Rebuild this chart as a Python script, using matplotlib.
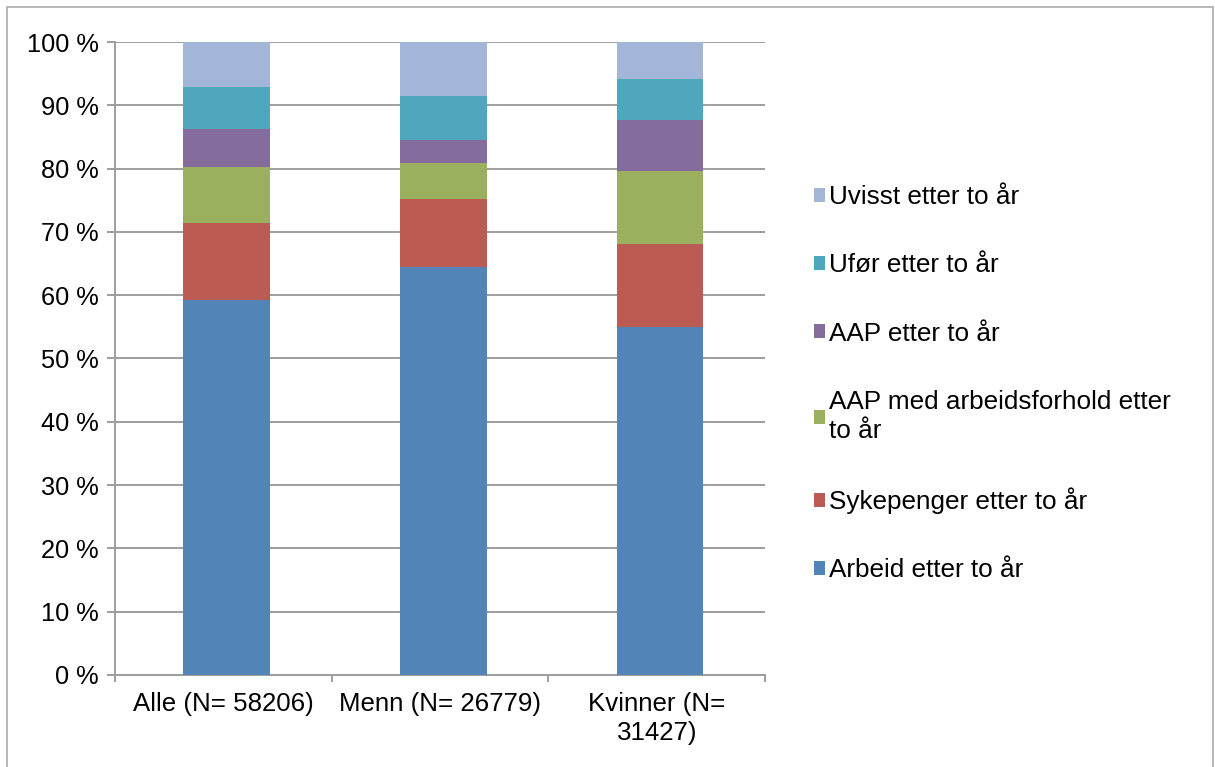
import numpy as np
import matplotlib
matplotlib.use("Agg")
from matplotlib import pyplot as plt
from matplotlib.patches import Rectangle

plt.rcParams['font.family'] = ['Liberation Sans', 'DejaVu Sans']

# Data (percent)
groups = ['Alle (N= 58206)', 'Menn (N= 26779)', 'Kvinner (N=\n31427)']
arbeid = [59.2, 64.4, 54.9]
sykepenger = [12.2, 10.8, 13.2]
aap_arbeid = [8.8, 5.7, 11.5]
aap = [6.1, 3.7, 8.1]
ufor = [6.6, 6.8, 6.5]
uvisst = [7.1, 8.6, 5.8]

series = [
    ('Arbeid etter to år', arbeid, '#5384B7'),
    ('Sykepenger etter to år', sykepenger, '#BC5B53'),
    ('AAP med arbeidsforhold etter\nto år', aap_arbeid, '#9BB05E'),
    ('AAP etter to år', aap, '#846C9D'),
    ('Ufør etter to år', ufor, '#4FA7BE'),
    ('Uvisst etter to år', uvisst, '#A3B6D8'),
]

fig = plt.figure(figsize=(12.15, 7.67), dpi=100)
ax = fig.add_axes([0.0947, 0.12, 0.535, 0.8252])

x = np.arange(len(groups))
bottom = np.zeros(len(groups))
handles = []
for name, vals, col in series:
    b = ax.bar(x + 0.015, vals, 0.4, bottom=bottom, color=col, label=name, zorder=3)
    bottom += np.array(vals)
    handles.append(b)

ax.set_xlim(-0.5, 2.5)
ax.set_ylim(0, 100)
ax.set_yticks(np.arange(0, 101, 10))
ax.set_yticklabels(['%d %%' % v for v in range(0, 101, 10)], fontsize=18.3)
ax.yaxis.grid(True, color='#9E9E9E', linewidth=1.4, zorder=0)
ax.set_axisbelow(True)

ax.set_xticks(x)
ax.set_xticklabels(groups, fontsize=18.6, linespacing=1.3)
ax.set_xticks([-0.5, 0.5, 1.5, 2.5], minor=True)
ax.tick_params(axis='x', which='major', length=0, pad=12)
ax.tick_params(axis='x', which='minor', length=5, color='#9E9E9E', width=1.4)
ax.tick_params(axis='y', length=6, color='#9E9E9E', width=1.4, pad=6)

for s in ['top', 'right']:
    ax.spines[s].set_visible(False)
for s in ['left', 'bottom']:
    ax.spines[s].set_color('#9E9E9E')
    ax.spines[s].set_linewidth(1.4)

leg = fig.legend(handles[::-1], [s[0] for s in series][::-1],
                 loc='upper left', bbox_to_anchor=(0.659, 0.776),
                 frameon=False, fontsize=18.8, labelspacing=1.7, borderpad=0,
                 handlelength=0.45, handleheight=0.45, handletextpad=0.15)
for t in leg.get_texts():
    t.set_linespacing(1.25)

# outer chart border
fig.patches.append(Rectangle((0.0058, -0.01), 0.9927, 1.0009, transform=fig.transFigure,
                             fill=False, edgecolor='#ABABAB', linewidth=1.2))

fig.savefig('out.png', dpi=100)
